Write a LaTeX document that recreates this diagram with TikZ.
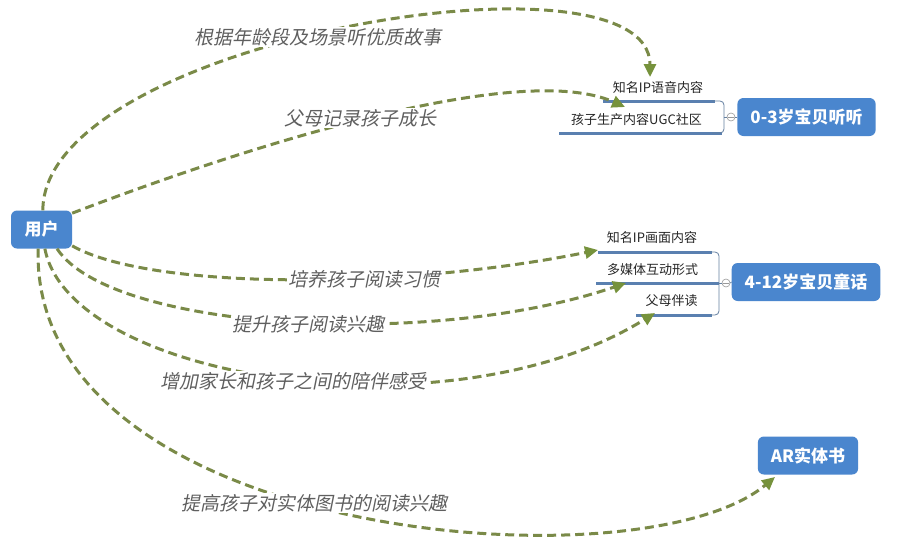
\documentclass[tikz,border=0pt]{standalone}
\usepackage{fontspec}
\setmainfont{Noto Sans CJK SC}
\newfontfamily\labfont{Noto Sans CJK SC}[FakeSlant=0.2]
\usetikzlibrary{arrows.meta}
\definecolor{boxblue}{RGB}{74,134,206}
\definecolor{relolive}{RGB}{122,138,72}
\definecolor{relarrow}{RGB}{118,146,60}
\definecolor{uline}{RGB}{90,128,176}
\definecolor{labgray}{RGB}{95,95,95}
\begin{document}
\begin{tikzpicture}[x=1pt,y=-1pt,
  topicbox/.style={fill=boxblue, rounded corners=6pt, text=white,
    font=\fontsize{17}{20}\selectfont\bfseries, minimum height=38pt, inner xsep=13pt},
  subtext/.style={font=\fontsize{13}{15}\selectfont, text=black!85, inner sep=0pt},
  underl/.style={draw=uline, line width=3pt},
  bracket/.style={draw=uline!70!gray, line width=0.8pt, rounded corners=4pt},
  knob/.style={circle, draw=gray!80, fill=white, line width=0.6pt, minimum size=8pt, inner sep=0pt},
  rel/.style={draw=relolive, line width=3pt, dash pattern=on 9pt off 5pt,
    -{Triangle[length=13pt,width=12pt,color=relarrow]}},
  relabel/.style={font=\labfont\fontsize{19}{22}\selectfont, text=labgray, fill=white, inner sep=1pt}
]
\fill[white] (0,0) rectangle (897,552);
\useasboundingbox (0,0) rectangle (897,552);

% subtopic underlines and brackets
\draw[underl] (603,101) -- (715,101);
\draw[underl] (559,133) -- (722,133);
\draw[bracket] (712,101) -- (724,101) -- (724,133) -- (712,133);
\draw[underl] (598,252) -- (712,252);
\draw[underl] (596,283) -- (719,283);
\draw[underl] (636,315) -- (712,315);
\draw[bracket] (710,252) -- (719,252) -- (719,315) -- (710,315);

% topic boxes
\node[topicbox, minimum width=61pt] (user) at (41.5,229.5) {用户};
\node[topicbox] (b1) at (806.5,117) {0-3岁宝贝听听};
\node[topicbox] (b2) at (806,282) {4-12岁宝贝童话};
\node[topicbox] (b3) at (808,455.5) {AR实体书};

% knobs
\node[knob] (k1) at (731,117) {};
\draw[gray!80, line width=0.6pt] ([xshift=1.5pt]k1.west) -- ([xshift=-1.5pt]k1.east);
\draw[bracket] (724,117) -- (k1.west);
\draw[bracket] (k1.east) -- (b1.west);
\node[knob] (k2) at (726,283) {};
\draw[gray!80, line width=0.6pt] ([xshift=1.5pt]k2.west) -- ([xshift=-1.5pt]k2.east);
\draw[bracket] (719,283) -- (k2.west);
\draw[bracket] (k2.east) -- (b2.west);

% subtopic texts
\node[subtext] (s1) at (658,88) {知名IP语音内容};
\node[subtext] (s2) at (636.5,120) {孩子生产内容UGC社区};
\node[subtext] (s3) at (652,238) {知名IP画面内容};
\node[subtext] (s4) at (652.5,270) {多媒体互动形式};
\node[subtext] (s5) at (671.5,301) {父母伴读};

% relationship ends
\coordinate (t1) at (650,77);
\coordinate (t2) at (625,107);
\coordinate (t3) at (598,250);
\coordinate (t4) at (626,283);
\coordinate (t5) at (655,313);
\coordinate (t6) at (775,477);

\draw[rel] (user.86) .. controls (43,40) and (650,-60) .. (t1);
\draw[rel] (user.28) .. controls (250,145) and (520,60) .. (t2);
\draw[rel] (user.-28) .. controls (150,290) and (400,290) .. (t3);
\draw[rel] (user.-51) .. controls (110,330) and (430,350) .. (t4);
\draw[rel] (user.-80) .. controls (70,380) and (450,440) .. (t5);
\draw[rel] (user.-100) .. controls (30,540) and (640,590) .. (t6);

% relationship labels
\node[relabel] (l1) at (318,37) {根据年龄段及场景听优质故事};
\node[relabel] (l2) at (360,118) {父母记录孩子成长};
\node[relabel] (l3) at (364,279) {培养孩子阅读习惯};
\node[relabel] (l4) at (308.5,324) {提升孩子阅读兴趣};
\node[relabel] (l5) at (293,381) {增加家长和孩子之间的陪伴感受};
\node[relabel] (l6) at (314.5,503) {提高孩子对实体图书的阅读兴趣};
\end{tikzpicture}
\end{document}
